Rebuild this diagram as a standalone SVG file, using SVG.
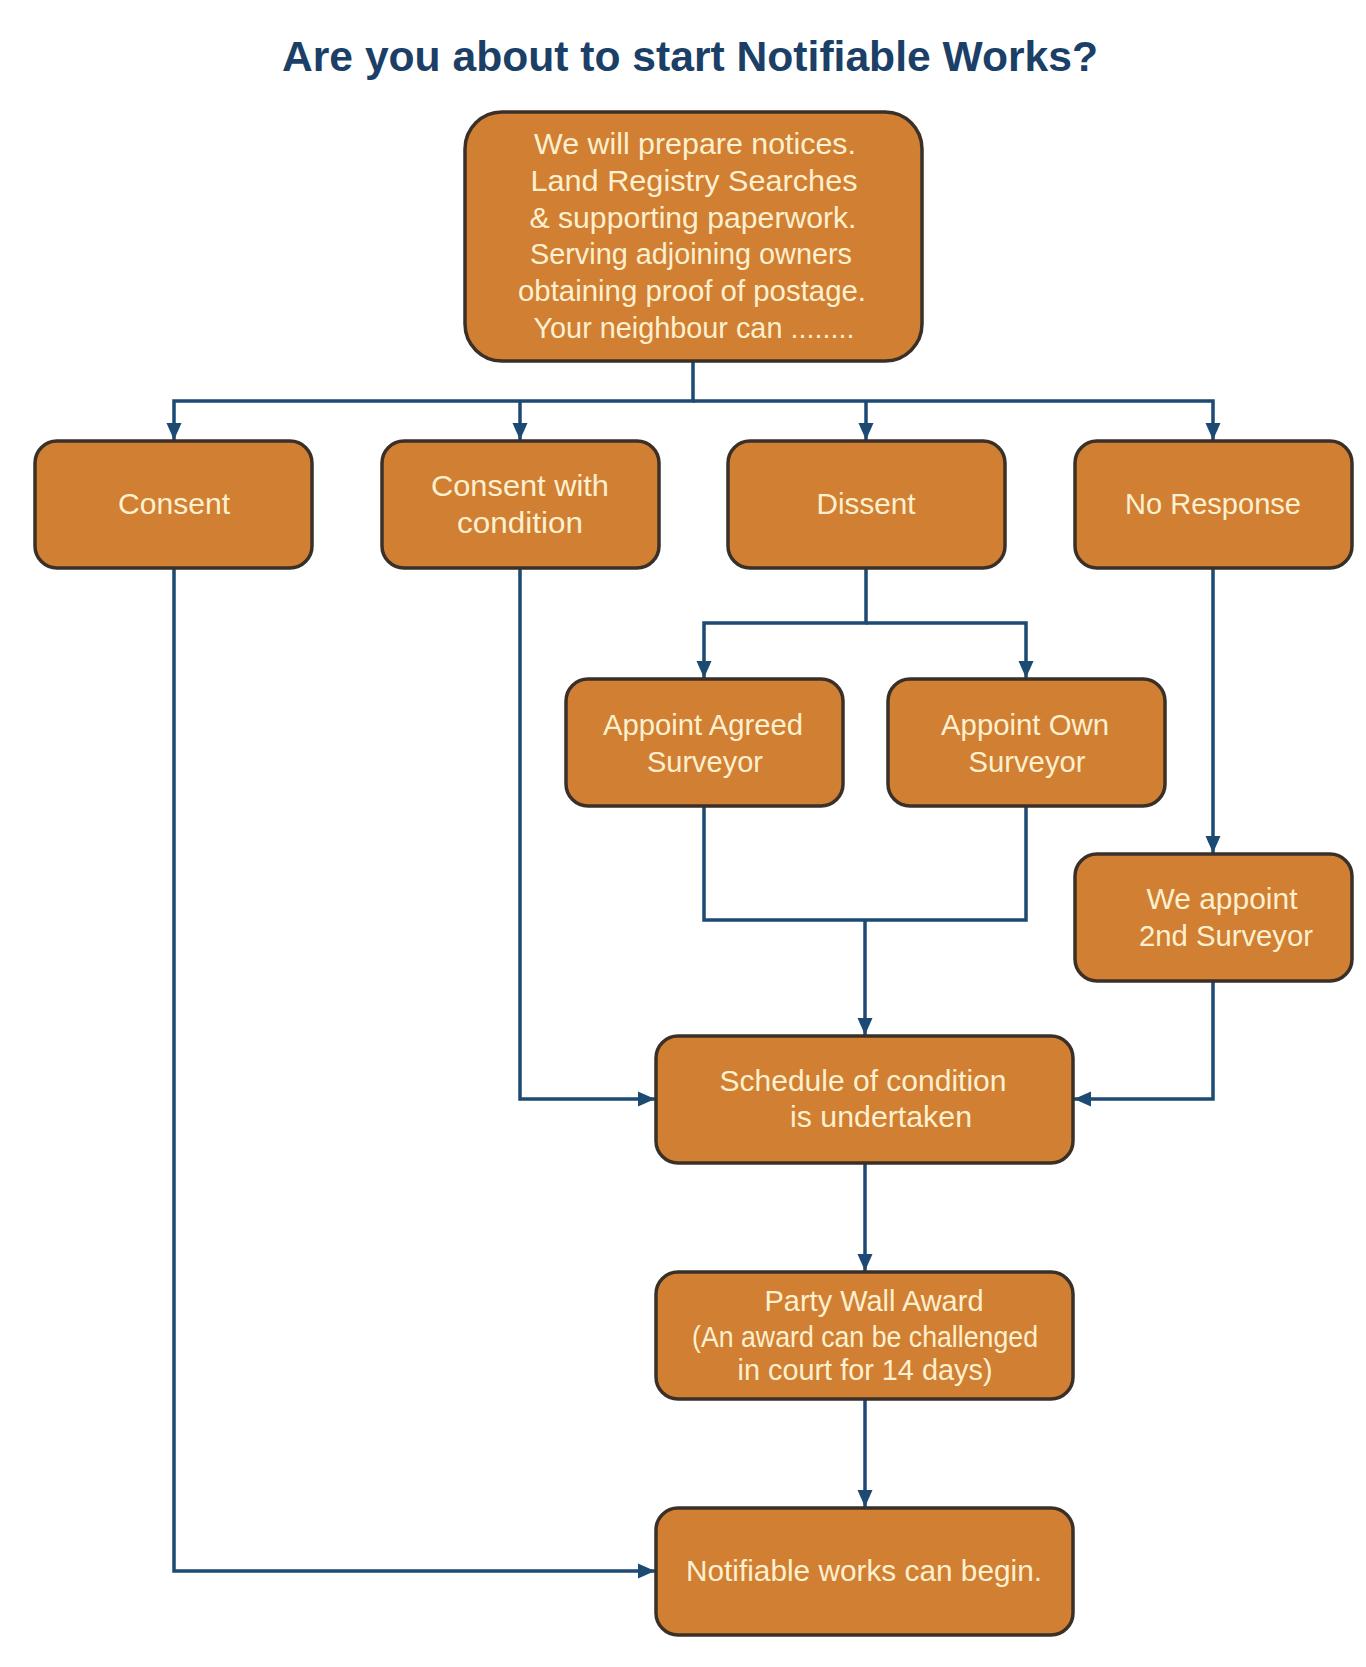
<svg xmlns="http://www.w3.org/2000/svg" width="1366" height="1667" viewBox="0 0 1366 1667">
<defs>
<style>
.box{fill:#d17f33;stroke:#3a3028;stroke-width:3.5}
.t{font-family:"Liberation Sans",Arial,sans-serif;font-size:29px;fill:#fdf0cf;text-anchor:middle}
.c{fill:none;stroke:#1d4a73;stroke-width:3.5}
.title{font-family:"Liberation Sans",Arial,sans-serif;font-weight:bold;font-size:43px;fill:#1b3f66;text-anchor:middle}
</style>
<marker id="ah" markerUnits="userSpaceOnUse" markerWidth="18" markerHeight="18" viewBox="0 0 18 18" refX="17" refY="9" orient="auto">
<path d="M0,1.5 L17,9 L0,16.5 z" fill="#1d4a73"/>
</marker>
</defs>
<rect width="1366" height="1667" fill="#ffffff"/>
<text class="title" x="690" y="71" textLength="816" lengthAdjust="spacingAndGlyphs">Are you about to start Notifiable Works?</text>

<g id="connectors">
<path class="c" d="M693,361 V401 H174 V440" marker-end="url(#ah)"/>
<path class="c" d="M693,401 H1213 V440" marker-end="url(#ah)"/>
<path class="c" d="M520,401 V440" marker-end="url(#ah)"/>
<path class="c" d="M866,401 V440" marker-end="url(#ah)"/>
<path class="c" d="M866,568 V623 H704 V678" marker-end="url(#ah)"/>
<path class="c" d="M866,623 H1026 V678" marker-end="url(#ah)"/>
<path class="c" d="M704,806 V920 H1026 V806"/>
<path class="c" d="M865,920 V1035" marker-end="url(#ah)"/>
<path class="c" d="M1213,568 V853" marker-end="url(#ah)"/>
<path class="c" d="M1213,981 V1099 H1074" marker-end="url(#ah)"/>
<path class="c" d="M520,568 V1099 H655" marker-end="url(#ah)"/>
<path class="c" d="M865,1163 V1271" marker-end="url(#ah)"/>
<path class="c" d="M865,1399 V1507" marker-end="url(#ah)"/>
<path class="c" d="M174,568 V1571 H655" marker-end="url(#ah)"/>
</g>

<g id="n-start">
<rect class="box" x="465" y="112" width="457" height="249" rx="37"/>
<text class="t" font-size="30" x="695" y="154" textLength="322" lengthAdjust="spacingAndGlyphs">We will prepare notices.</text>
<text class="t" font-size="30" x="694" y="191" textLength="327" lengthAdjust="spacingAndGlyphs">Land  Registry  Searches</text>
<text class="t" font-size="30" x="693" y="228" textLength="327" lengthAdjust="spacingAndGlyphs">&amp; supporting paperwork.</text>
<text class="t" font-size="30" x="691" y="264" textLength="322" lengthAdjust="spacingAndGlyphs">Serving adjoining owners</text>
<text class="t" font-size="30" x="692" y="301" textLength="348" lengthAdjust="spacingAndGlyphs">obtaining proof of postage.</text>
<text class="t" font-size="30" x="694" y="338" textLength="321" lengthAdjust="spacingAndGlyphs">Your neighbour can ........</text>
</g>

<g id="n-consent">
<rect class="box" x="35" y="441" width="277" height="127" rx="22"/>
<text class="t" x="174" y="514" textLength="112" lengthAdjust="spacingAndGlyphs">Consent</text>
</g>
<g id="n-consent-condition">
<rect class="box" x="382" y="441" width="277" height="127" rx="22"/>
<text class="t" x="520" y="496" textLength="178" lengthAdjust="spacingAndGlyphs">Consent with</text>
<text class="t" x="520" y="533" textLength="126" lengthAdjust="spacingAndGlyphs">condition</text>
</g>
<g id="n-dissent">
<rect class="box" x="728" y="441" width="277" height="127" rx="22"/>
<text class="t" x="866" y="514" textLength="99" lengthAdjust="spacingAndGlyphs">Dissent</text>
</g>
<g id="n-noresponse">
<rect class="box" x="1075" y="441" width="277" height="127" rx="22"/>
<text class="t" x="1213" y="514" textLength="176" lengthAdjust="spacingAndGlyphs">No Response</text>
</g>

<g id="n-agreed">
<rect class="box" x="566" y="679" width="277" height="127" rx="22"/>
<text class="t" x="703" y="735" textLength="200" lengthAdjust="spacingAndGlyphs">Appoint Agreed</text>
<text class="t" x="705" y="772" textLength="116" lengthAdjust="spacingAndGlyphs">Surveyor</text>
</g>
<g id="n-own">
<rect class="box" x="888" y="679" width="277" height="127" rx="22"/>
<text class="t" x="1025" y="735" textLength="168" lengthAdjust="spacingAndGlyphs">Appoint Own</text>
<text class="t" x="1027" y="772" textLength="117" lengthAdjust="spacingAndGlyphs">Surveyor</text>
</g>
<g id="n-weappoint">
<rect class="box" x="1075" y="854" width="277" height="127" rx="22"/>
<text class="t" x="1222" y="909" textLength="151" lengthAdjust="spacingAndGlyphs">We appoint</text>
<text class="t" x="1226" y="946" textLength="174" lengthAdjust="spacingAndGlyphs">2nd Surveyor</text>
</g>

<g id="n-schedule">
<rect class="box" x="656" y="1036" width="417" height="127" rx="22"/>
<text class="t" x="863" y="1091" textLength="287" lengthAdjust="spacingAndGlyphs">Schedule of condition</text>
<text class="t" x="881" y="1127" textLength="182" lengthAdjust="spacingAndGlyphs">is undertaken</text>
</g>
<g id="n-award">
<rect class="box" x="656" y="1272" width="417" height="127" rx="22"/>
<text class="t" x="874" y="1311" textLength="219" lengthAdjust="spacingAndGlyphs">Party Wall Award</text>
<text class="t" x="865" y="1347" textLength="346" lengthAdjust="spacingAndGlyphs">(An award can be challenged</text>
<text class="t" x="865" y="1380" textLength="255" lengthAdjust="spacingAndGlyphs">in court for 14 days)</text>
</g>
<g id="n-begin">
<rect class="box" x="656" y="1508" width="417" height="127" rx="22"/>
<text class="t" x="864" y="1581" textLength="356" lengthAdjust="spacingAndGlyphs">Notifiable works can begin.</text>
</g>
</svg>
